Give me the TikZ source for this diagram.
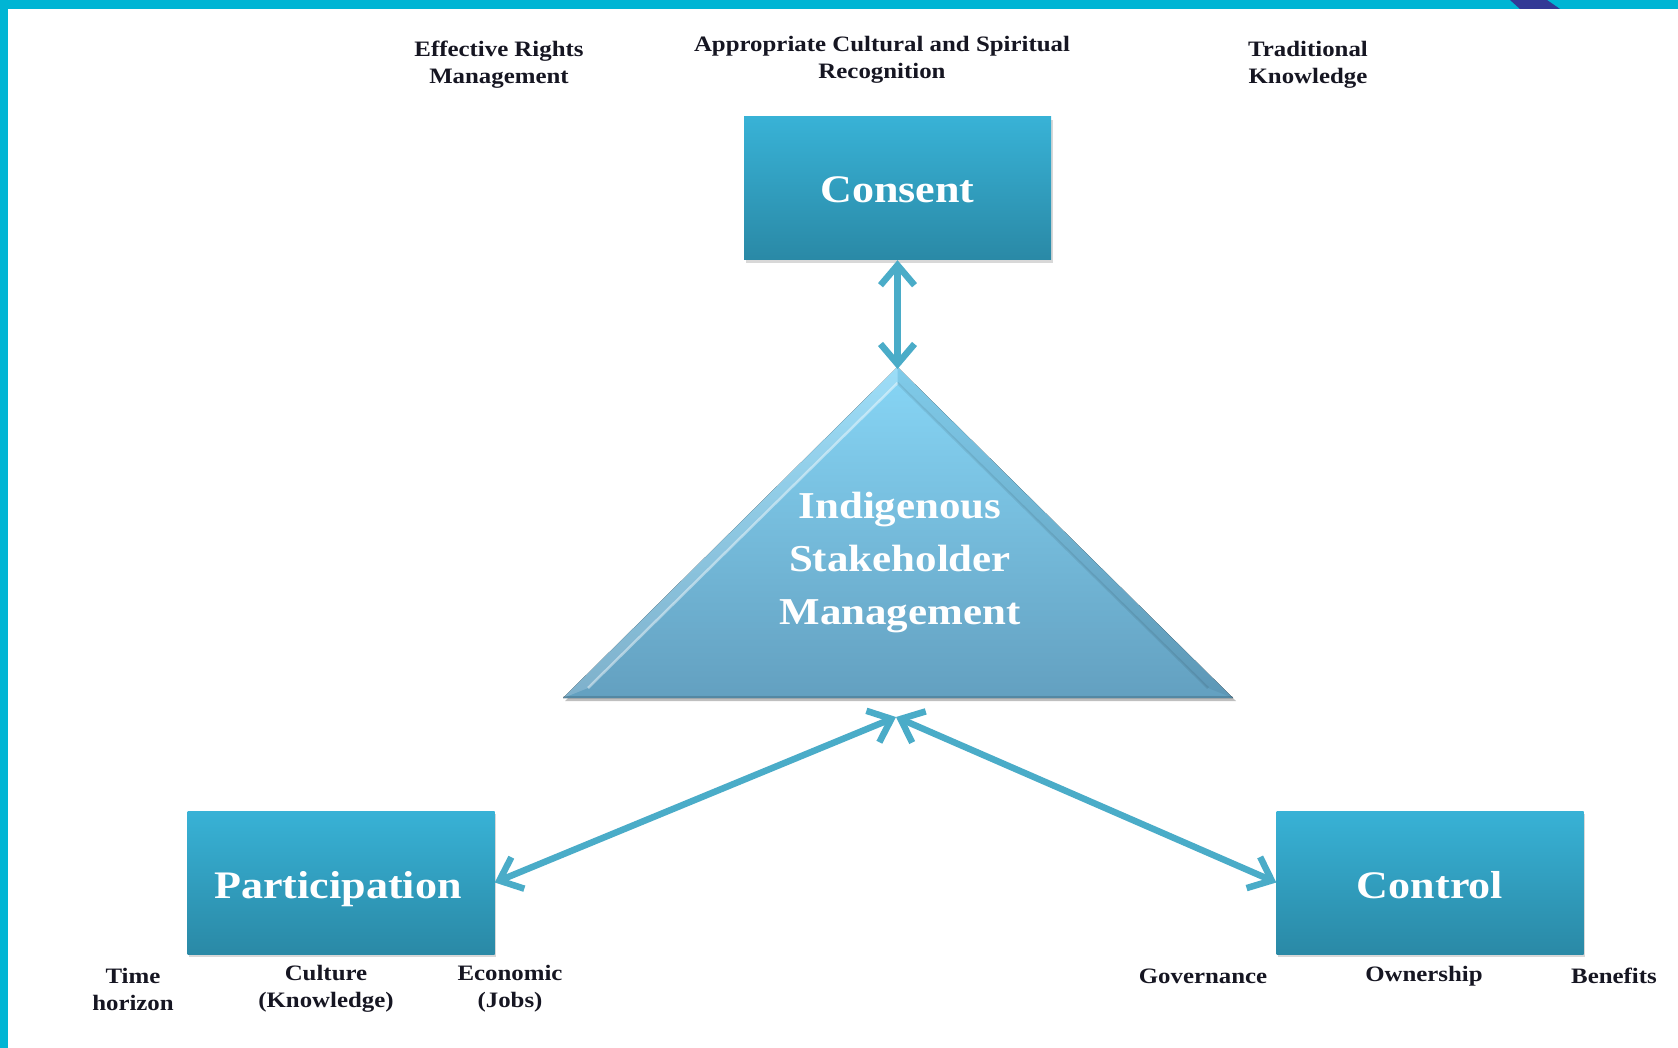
\documentclass[tikz,border=0pt]{standalone}
\usepackage{fontspec}
\setmainfont{Liberation Serif}[FakeStretch=1.13]
\usetikzlibrary{arrows.meta,shadows}
\definecolor{barcyan}{RGB}{0,181,212}
\definecolor{bardark}{RGB}{51,57,150}
\definecolor{boxtop}{RGB}{56,178,214}
\definecolor{boxbot}{RGB}{42,137,166}
\definecolor{tritop}{RGB}{135,214,246}
\definecolor{tribot}{RGB}{99,160,192}
\definecolor{arrowc}{RGB}{74,172,200}
\definecolor{labelc}{RGB}{22,22,34}
\begin{document}
\begin{tikzpicture}[x=1pt,y=-1pt,
  mainbox/.style={minimum width=307pt, minimum height=143pt, inner sep=0pt,
    top color=boxtop, bottom color=boxbot, text=white,
    font=\bfseries\fontsize{39}{46}\selectfont,
    drop shadow={opacity=0.3, shadow xshift=1.5pt, shadow yshift=-3pt}},
  boxtext/.style={text=white, inner sep=0pt, anchor=base,
    font=\bfseries\fontsize{39}{46}\selectfont},
  lab/.style={align=center, text=labelc, inner sep=0pt,
    font=\bfseries\fontsize{22}{27}\selectfont},
  tritext/.style={align=center, text=white, inner sep=0pt,
    font=\bfseries\fontsize{38}{53}\selectfont},
  link/.style={draw=arrowc, line width=6.5pt,
    {Straight Barb[length=20pt,width=34pt]}-{Straight Barb[length=20pt,width=34pt]}}
]
\useasboundingbox (0,0) rectangle (1678,1048);
\fill[white] (0,0) rectangle (1678,1048);
% frame
\fill[barcyan] (0,0) rectangle (1678,9);
\fill[barcyan] (0,0) rectangle (8,1048);
\fill[bardark] (1510,0) -- (1547,0) -- (1560,9) -- (1520,9) -- cycle;

% boxes
\node[mainbox] (consent) at (897.5,188.5) {};
\node[boxtext] (consentt) at (897.5,203) {Consent};
\node[mainbox] (part) at (341,882.5) {};
\node[boxtext] (partt) at (338,898) {Participation};
\node[mainbox] (ctrl) at (1430,882.5) {};
\node[boxtext] (ctrlt) at (1430,898) {Control};

% triangle
\fill[black, opacity=0.25] (898.5,370) -- (1236,701) -- (565,701) -- cycle;
\fill[top color=tritop, bottom color=tribot] (897.5,367) -- (1233,698) -- (563,698) -- cycle;
\fill[white, opacity=0.18] (897.5,367) -- (897.5,383) -- (588,688) -- (563,698) -- cycle;
\fill[black, opacity=0.05] (897.5,367) -- (1233,698) -- (1208,688) -- (897.5,383) -- cycle;
\draw[white, opacity=0.45, line width=2.5pt] (588,688) -- (897.5,383);
\draw[black, opacity=0.08, line width=2.5pt] (897.5,383) -- (1208,688);
\draw[black, opacity=0.15, line width=2pt] (563,697) -- (1233,697);
\node[tritext] (tri) at (900,563) {Indigenous\\Stakeholder\\Management};

% connectors
\coordinate (apex) at (897.5,369);
\coordinate (hub) at (896,717);
\draw[link] (consent.south) -- (apex);
\draw[link] (part.east) -- (hub);
\draw[link] (hub) -- (ctrl.west);

% labels
\node[lab] (l1) at (499,65) {Effective Rights\\Management};
\node[lab] (l2) at (882,60) {Appropriate Cultural and Spiritual\\Recognition};
\node[lab] (l3) at (1308,65) {Traditional\\Knowledge};
\node[lab] (l4) at (133,989) {Time\\horizon};
\node[lab] (l5) at (326,989) {Culture\\(Knowledge)};
\node[lab] (l6) at (510,989) {Economic\\(Jobs)};
\node[lab] (l7) at (1203,976) {Governance};
\node[lab] (l8) at (1424,976) {Ownership};
\node[lab] (l9) at (1614,976) {Benefits};
\end{tikzpicture}
\end{document}
